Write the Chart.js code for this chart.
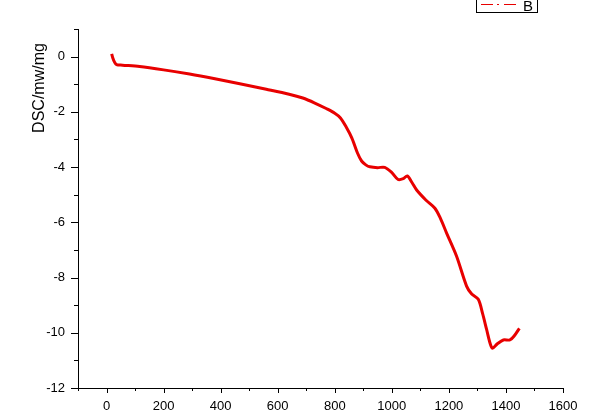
<!DOCTYPE html>
<html>
<head>
<meta charset="utf-8">
<script src="https://cdn.jsdelivr.net/npm/chart.js@4/dist/chart.umd.min.js"></script>
<style>
  html, body { margin: 0; padding: 0; background: #fff; }
  canvas { display: block; }
</style>
</head>
<body>
<canvas id="grafico" width="599" height="416"></canvas>
<script>
const temperaturas = [18, 22, 28, 35, 56, 116, 200, 291, 380, 467, 560, 640, 688, 730, 770, 800, 820, 840, 860, 880, 894, 910, 923, 950, 975, 1000, 1022, 1040, 1054, 1070, 1087, 1120, 1151, 1170, 1192, 1227, 1262, 1280, 1303, 1318, 1332, 1345, 1353, 1370, 1391, 1414, 1430, 1447];
const dsc = [0.10, -0.05, -0.20, -0.29, -0.31, -0.36, -0.48, -0.63, -0.80, -0.98, -1.18, -1.36, -1.50, -1.68, -1.88, -2.05, -2.22, -2.55, -2.95, -3.50, -3.78, -3.93, -3.99, -4.02, -4.01, -4.20, -4.45, -4.42, -4.32, -4.55, -4.83, -5.20, -5.49, -5.85, -6.39, -7.23, -8.31, -8.60, -8.79, -9.30, -9.87, -10.40, -10.56, -10.40, -10.26, -10.26, -10.10, -9.84];
const xMajor = [0, 200, 400, 600, 800, 1000, 1200, 1400, 1600];
const yMajor = [0, -2, -4, -6, -8, -10, -12];
const tituloY = "DSC/mw/mg";
const nomeSerie = "B";

const VERMELHO = "rgb(232,0,0)";
const fonte = "'Liberation Sans', Arial, sans-serif";

// ticks pequenos e grandes desenhados à mão, como no Origin
const eixosOrigin = {
  id: "eixosOrigin",
  afterDraw(chart) {
    const ctx = chart.ctx;
    const x = chart.scales.x;
    const y = chart.scales.y;
    const area = chart.chartArea;

    ctx.save();
    ctx.strokeStyle = "#000";
    ctx.lineWidth = 1;
    ctx.beginPath();
    ctx.moveTo(area.left + 0.5, area.top);
    ctx.lineTo(area.left + 0.5, area.bottom + 0.5);
    ctx.lineTo(area.right, area.bottom + 0.5);

    for (let v = -100; v <= 1600; v += 100) {
      const px = Math.round(x.getPixelForValue(v)) + 0.5;
      const len = xMajor.includes(v) ? 5 : 3;
      ctx.moveTo(px, area.bottom);
      ctx.lineTo(px, area.bottom + len);
    }
    for (let v = -12; v <= 1; v += 1) {
      const py = Math.round(y.getPixelForValue(v)) + 0.5;
      const len = yMajor.includes(v) ? 7 : 4;
      ctx.moveTo(area.left, py);
      ctx.lineTo(area.left - len, py);
    }
    ctx.stroke();

    // título do eixo y
    ctx.fillStyle = "#000";
    ctx.font = "16px " + fonte;
    ctx.translate(44, 88);
    ctx.rotate(-Math.PI / 2);
    ctx.textAlign = "center";
    ctx.textBaseline = "alphabetic";
    ctx.fillText(tituloY, 0, 0);
    ctx.restore();

    // legenda cortada no topo
    ctx.save();
    ctx.strokeStyle = "#000";
    ctx.lineWidth = 1;
    ctx.strokeRect(476.5, -1.5, 61, 14);
    ctx.strokeStyle = VERMELHO;
    ctx.lineWidth = 1;
    ctx.setLineDash([12, 4, 2, 5]);
    ctx.beginPath();
    ctx.moveTo(481, 4.5);
    ctx.lineTo(519, 4.5);
    ctx.stroke();
    ctx.setLineDash([]);
    ctx.fillStyle = "#000";
    ctx.font = "15px " + fonte;
    ctx.textBaseline = "alphabetic";
    ctx.fillText(nomeSerie, 523, 11);
    ctx.restore();
  }
};

const pontos = temperaturas.map((t, i) => ({ x: t, y: dsc[i] }));

new Chart(document.getElementById("grafico"), {
  type: "scatter",
  data: {
    datasets: [{
      label: nomeSerie,
      data: pontos,
      showLine: true,
      borderColor: VERMELHO,
      borderWidth: 3,
      pointRadius: 0,
      tension: 0.3
    }]
  },
  options: {
    responsive: false,
    animation: false,
    layout: { padding: { top: 29, right: 36, left: 0, bottom: 0 } },
    plugins: { legend: { display: false }, tooltip: { enabled: false } },
    scales: {
      x: {
        type: "linear",
        min: -100,
        max: 1600,
        afterFit(scale) { scale.height = 28; },
        afterBuildTicks(scale) { scale.ticks = xMajor.map(v => ({ value: v })); },
        border: { display: false },
        grid: { display: false, drawTicks: false },
        ticks: {
          color: "#000",
          font: { family: fonte, size: 13 },
          padding: 11,
          maxRotation: 0,
          callback: v => String(v)
        }
      },
      y: {
        type: "linear",
        min: -12,
        max: 1,
        afterFit(scale) { scale.width = 78; },
        afterBuildTicks(scale) { scale.ticks = yMajor.map(v => ({ value: v })); },
        border: { display: false },
        grid: { display: false, drawTicks: false },
        ticks: {
          color: "#000",
          font: { family: fonte, size: 13 },
          padding: 13,
          callback: v => String(v)
        }
      }
    }
  },
  plugins: [eixosOrigin]
});
</script>
</body>
</html>
